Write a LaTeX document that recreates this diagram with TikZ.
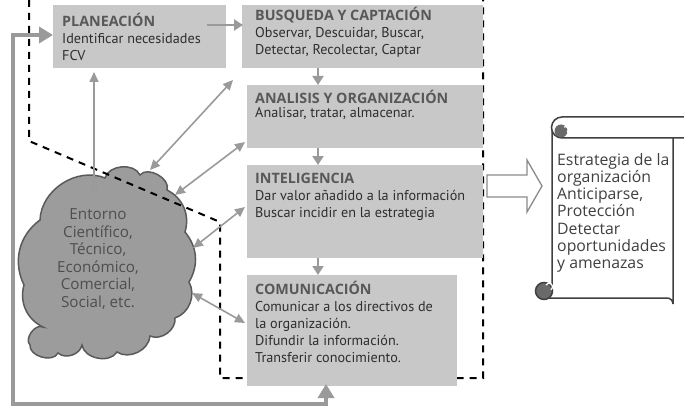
\documentclass[tikz,border=0pt]{standalone}
\usepackage{fontspec}
\setmainfont{PT Sans}
\newfontfamily\ttlfont{Open Sans}
\newfontfamily\cloudfont{Open Sans}
\usetikzlibrary{arrows.meta}
\definecolor{boxgray}{HTML}{C8C8C8}
\definecolor{arrgray}{HTML}{9A9A9A}
\definecolor{txtdark}{HTML}{2E2E2E}
\definecolor{ttlgray}{HTML}{585858}
\definecolor{cloudfill}{HTML}{9C9C9C}
\definecolor{clouddraw}{HTML}{5A5A5A}
\definecolor{cloudtxt}{HTML}{4E4E4E}
\definecolor{scrolldark}{HTML}{6A6A6A}
\newcommand{\myTopStrut}{\rule{0pt}{14pt}}
\newcommand{\ttl}[1]{{\ttlfont\fontsize{14.3}{17}\selectfont\bfseries\color{ttlgray}#1}}
\begin{document}
\begin{tikzpicture}[x=1pt,y=-1pt,
  stagebox/.style={fill=boxgray, draw=none, inner sep=0pt, anchor=north west},
  boxtext/.style={anchor=north west, inner sep=0pt, align=left, text=txtdark,
    font=\fontsize{14.2}{17}\selectfont},
  dbl/.style={draw=arrgray, line width=1.6pt, {Triangle[length=10pt,width=9pt]}-{Triangle[length=10pt,width=9pt]}},
  flow/.style={draw=arrgray, line width=2.6pt, -{Triangle[length=9pt,width=11pt]}},
  fback/.style={draw=arrgray, line width=3.5pt, {Triangle[length=14pt,width=16pt]}-{Triangle[length=14pt,width=16pt]}},
  dashline/.style={draw=black, line width=2pt, dash pattern=on 7pt off 6pt}
]
\useasboundingbox (0,0) rectangle (684,406);

% cloud
\draw[fill=cloudfill, draw=clouddraw, line width=1.5pt]
  (40,220) to[bend left=55] (105,178) to[bend left=70] (140,175)
  to[bend left=80] (167,190) to[bend left=40] (185,232)
  to[bend left=35] (189,282) to[bend left=50] (175,318)
  to[bend left=60] (150,336) to[bend left=60] (117,352)
  to[bend left=70] (82,345) to[bend left=60] (58,353)
  to[bend left=80] (30,345) to[bend left=80] (43,327)
  to[bend left=40] (24,285) to[bend left=40] (40,220) -- cycle;
\node[align=center, text=cloudtxt, font=\cloudfont\fontsize{15.2}{17.6}\selectfont, inner sep=0pt] (cloud) at (98,259)
  {Entorno\\Científico,\\Técnico,\\Económico,\\Comercial,\\Social, etc.};

% dashed boundary
\draw[dashline] (29,0) -- (29,141) -- (220,222) -- (220,378) -- (483,378) -- (483,0);

% boxes
\node[stagebox, minimum width=173pt, minimum height=63pt] (plan) at (53,5) {};
\node[stagebox, minimum width=241pt, minimum height=63pt] (busq) at (242,5) {};
\node[stagebox, minimum width=236pt, minimum height=63pt] (anal) at (247,85) {};
\node[stagebox, minimum width=236pt, minimum height=93pt] (intel) at (247,165) {};
\node[stagebox, minimum width=210pt, minimum height=111pt] (comun) at (247,275) {};

\node[boxtext] (plantxt) at (62,12) {\myTopStrut\ttl{PLANEACIÓN}\\Identificar necesidades\\FCV};
\node[boxtext] (busqtxt) at (255,6) {\myTopStrut\ttl{BUSQUEDA Y CAPTACIÓN}\\Observar, Descuidar, Buscar,\\Detectar, Recolectar, Captar};
\node[boxtext, font=\fontsize{14.2}{14}\selectfont] (analtxt) at (255,89) {\myTopStrut\ttl{ANALISIS Y ORGANIZACIÓN}\\Analisar, tratar, almacenar.};
\node[boxtext] (inteltxt) at (255,169) {\myTopStrut\ttl{INTELIGENCIA}\\Dar valor añadido a la información\\Buscar incidir en la estrategia};
\node[boxtext] (comuntxt) at (255,280) {\myTopStrut\ttl{COMUNICACIÓN}\\Comunicar a los directivos de\\la organización.\\Difundir la información.\\Transferir conocimiento.};

% flow arrows
\coordinate (pbS) at (207,25);
\coordinate (pbE) at (243,25);
\draw[flow] (pbS) -- (pbE);
\draw[flow, line width=2pt] (busq.south -| 318,0) -- (anal.north -| 318,0);
\draw[flow, line width=2pt] (anal.south -| 318,0) -- (intel.north -| 318,0);
\draw[flow, line width=2pt] (intel.south -| 318,0) -- (comun.north -| 318,0);

% double arrows to cloud
\coordinate (c1) at (94,195);  \coordinate (p1) at (94,72);
\coordinate (c2) at (150,170); \coordinate (b2) at (233,80);
\coordinate (c3) at (175,195); \coordinate (a3) at (245,142);
\coordinate (c4) at (193,248); \coordinate (i4) at (245,207);
\coordinate (c5) at (192,293); \coordinate (m5) at (245,323);
\draw[dbl] (p1) -- (c1);
\draw[dbl] (b2) -- (c2);
\draw[dbl] (a3) -- (c3);
\draw[dbl] (i4) -- (c4);
\draw[dbl] (c5) -- (m5);

% feedback loop
\coordinate (fbA) at (326,384);
\coordinate (fbB) at (53,35);
\draw[fback] (fbA) -- (326,404) -- (13,404) -- (13,35) -- (fbB);

% hollow arrow
\draw[draw=arrgray!90!black, fill=white, line width=1.3pt]
  (487,175) -- (527,175) -- (527,160) -- (542,186) -- (527,212) -- (527,197) -- (487,197) -- cycle;

% scroll
\draw[draw=black!75, fill=white, line width=1.5pt]
  (552,128) -- (552,291) -- (548,298) -- (667,298) arc[start angle=90, end angle=0, radius=6pt] -- (673,137);
\draw[draw=black!75, fill=white, line width=1.5pt]
  (562,117) -- (690,117) -- (690,138) -- (562,138) arc[start angle=270, end angle=90, radius=10.5pt] -- cycle;
\fill[scrolldark] (561,131) circle[radius=6.5pt];
\draw[white, line width=1.2pt] (564,127) arc[start angle=120, end angle=-60, radius=3pt];
\draw[draw=black!75, fill=scrolldark, line width=1.5pt] (544,291) circle[radius=8.5pt];
\draw[white, line width=1.3pt] (546,285) arc[start angle=150, end angle=-60, radius=3.5pt];

\node[anchor=north west, inner sep=0pt, align=left, text=black!75,
  font=\cloudfont\fontsize{15.8}{17.2}\selectfont] (strat) at (557,151)
  {\myTopStrut Estrategia de la\\organización\\Anticiparse,\\Protección\\Detectar\\oportunidades\\y amenazas};
\end{tikzpicture}
\end{document}
